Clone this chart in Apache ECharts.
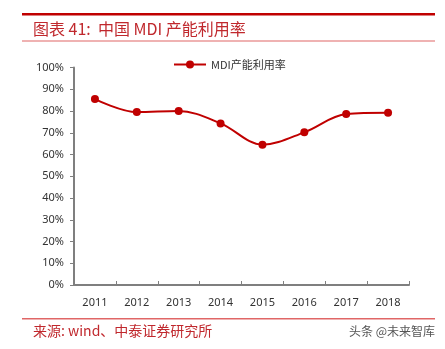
<!DOCTYPE html>
<html><head><meta charset="utf-8">
<script src="https://cdn.jsdelivr.net/npm/echarts@6/dist/echarts.min.js"></script>
<style>html,body{margin:0;padding:0;background:#fff}#c{width:445px;height:349px}</style>
</head><body><div id="c"></div>
<script>
var categories = ['2011','2012','2013','2014','2015','2016','2017','2018'];
var utilization = [85.5, 79.5, 80.0, 74.3, 64.5, 70.2, 78.6, 79.2];
var seriesName = 'MDI产能利用率';
var yTicks = [0, 10, 20, 30, 40, 50, 60, 70, 80, 90, 100];

var chart = echarts.init(document.getElementById('c'));
var red = '#c00000';
chart.setOption({
  animation: false,
  grid: {left: 74, right: 36, top: 67.5, bottom: 64},
  legend: {
    top: 54, left: 168,
    itemWidth: 32, itemHeight: 10, itemGap: 4,
    textStyle: {fontSize: 11, color: '#333', fontFamily: 'Noto Sans CJK SC'},
    data: [seriesName]
  },
  xAxis: {
    type: 'category', data: categories, boundaryGap: true,
    axisLine: {lineStyle: {color: '#7f7f7f', width: 2}},
    axisTick: {show: true, lineStyle: {color: '#7f7f7f'}, length: 4, inside: true},
    axisLabel: {color: '#333', fontSize: 11, margin: 12, fontFamily: 'Noto Sans'}
  },
  yAxis: {
    type: 'value', min: yTicks[0], max: yTicks[yTicks.length-1], interval: 10,
    axisLine: {show: true, lineStyle: {color: '#7f7f7f', width: 2}},
    axisTick: {show: true, length: 4, lineStyle: {color: '#7f7f7f'}},
    splitLine: {show: false},
    axisLabel: {color: '#333', fontSize: 11, margin: 10, fontFamily: 'Noto Sans', formatter: '{value}%'}
  },
  series: [{
    name: seriesName, type: 'line', data: utilization, smooth: 0.35,
    symbol: 'circle', symbolSize: 8,
    lineStyle: {color: red, width: 2},
    itemStyle: {color: red}
  }],
  graphic: [
    {type: 'rect', shape: {x: 22, y: 13, width: 413, height: 2.5}, style: {fill: red}},
    {type: 'text', left: 33, top: 21, style: {text: '图表 41:  中国 MDI 产能利用率', fill: '#c0282d', font: '16px "Noto Sans CJK SC"'}},
    {type: 'rect', shape: {x: 22, y: 40.5, width: 413, height: 1}, style: {fill: '#e06666'}},
    {type: 'rect', shape: {x: 22, y: 318, width: 413, height: 1.5}, style: {fill: '#e06666'}},
    {type: 'text', left: 33, top: 324, style: {text: '来源: wind、中泰证券研究所', fill: '#c0282d', font: '14px "Noto Sans CJK SC"'}},
    {type: 'text', right: 10, top: 325, style: {text: '头条 @未来智库', fill: '#555', font: '12px "Noto Sans CJK SC"'}}
  ]
});
</script></body></html>
